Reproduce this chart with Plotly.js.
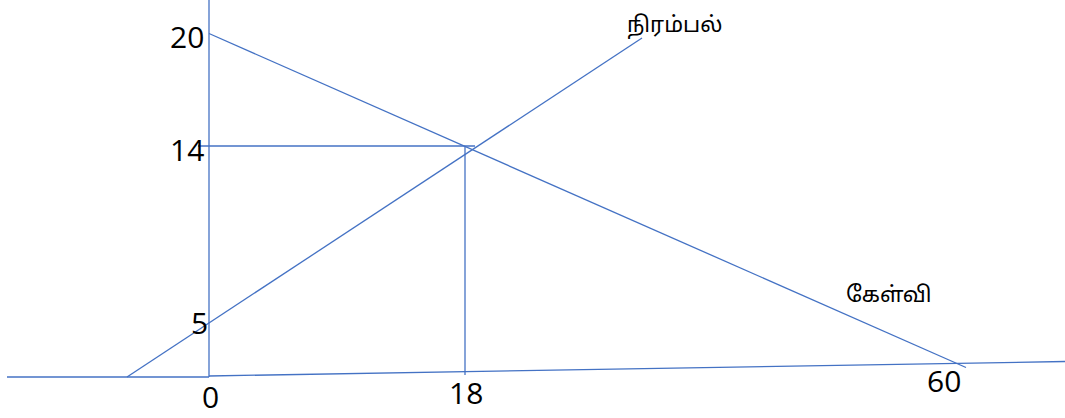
<!DOCTYPE html>
<html>
<head>
<meta charset="utf-8">
<script src="https://cdn.plot.ly/plotly-3.0.1.min.js"></script>
<style>html,body{margin:0;padding:0;background:#fff;}#chart{width:1065px;height:418px;}</style>
</head>
<body>
<div id="chart"></div>
<script>
// Diagram drawn in its own sketch units (the original is not to scale)
// Horizontal (quantity) axis, drawn in two segments
const axisLeftX = [7, 209];
const axisLeftY = [377, 377];
const axisRightX = [209, 1065];
const axisRightY = [376, 361.5];
// Vertical (price) axis
const axisVX = [209, 209];
const axisVY = [0, 377];
// Demand line (கேள்வி): price 20 at qty 0 down to qty 60
const demandX = [209, 966];
const demandY = [33.5, 367.5];
// Supply line (நிரம்பல்)
const supplyX = [127, 642];
const supplyY = [377, 38];
// Equilibrium guides (price 14, quantity 18)
const guideHX = [198, 475];
const guideHY = [146, 146];
const guideVX = [465, 465];
const guideVY = [146, 375];

// Tick labels
const yTickLabels = ['20', '14', '5'];
const xTickLabels = ['0', '18', '60'];
const curveLabels = ['நிரம்பல்', 'கேள்வி'];

// label positions (sketch units)
const yTickPos = [[187, 36], [187, 149], [199, 322]];
const xTickPos = [[210, 396], [466, 392], [944, 380]];
const curveLabelPos = [[674, 26], [889, 296]];

const lineColor = '#4472C4';
const lw = 1.3;
function seg(x, y, name) {
  return {x: x, y: y, mode: 'lines', type: 'scatter', name: name,
          line: {color: lineColor, width: lw}, hoverinfo: 'skip', showlegend: false};
}
const traces = [
  seg(axisLeftX, axisLeftY, 'axis'),
  seg(axisRightX, axisRightY, 'axis'),
  seg(axisVX, axisVY, 'axis'),
  seg(demandX, demandY, 'கேள்வி'),
  seg(supplyX, supplyY, 'நிரம்பல்'),
  seg(guideHX, guideHY, 'guide'),
  seg(guideVX, guideVY, 'guide')
];

const numFont = {family: 'Open Sans, Liberation Sans, Arial, sans-serif', size: 30, color: '#000'};
const tamilFont = {family: 'Noto Sans Tamil, Lohit Tamil, Latha, Noto Sans, sans-serif', size: 22, color: '#000'};
const annotations = [];
yTickLabels.forEach((t, i) => annotations.push({x: yTickPos[i][0], y: yTickPos[i][1], text: t, showarrow: false, xanchor: 'center', yanchor: 'middle', font: numFont}));
xTickLabels.forEach((t, i) => annotations.push({x: xTickPos[i][0], y: xTickPos[i][1], text: t, showarrow: false, xanchor: 'center', yanchor: 'middle', font: numFont}));
curveLabels.forEach((t, i) => annotations.push({x: curveLabelPos[i][0], y: curveLabelPos[i][1], text: t, showarrow: false, xanchor: 'center', yanchor: 'middle', font: tamilFont}));

const layout = {
  width: 1065, height: 418,
  margin: {l: 0, r: 0, t: 0, b: 0},
  paper_bgcolor: '#fff', plot_bgcolor: '#fff',
  xaxis: {range: [0, 1065], visible: false, fixedrange: true},
  yaxis: {range: [418, 0], visible: false, fixedrange: true},
  annotations: annotations,
  showlegend: false
};
Plotly.newPlot('chart', traces, layout, {staticPlot: true, displayModeBar: false});
</script>
</body>
</html>
